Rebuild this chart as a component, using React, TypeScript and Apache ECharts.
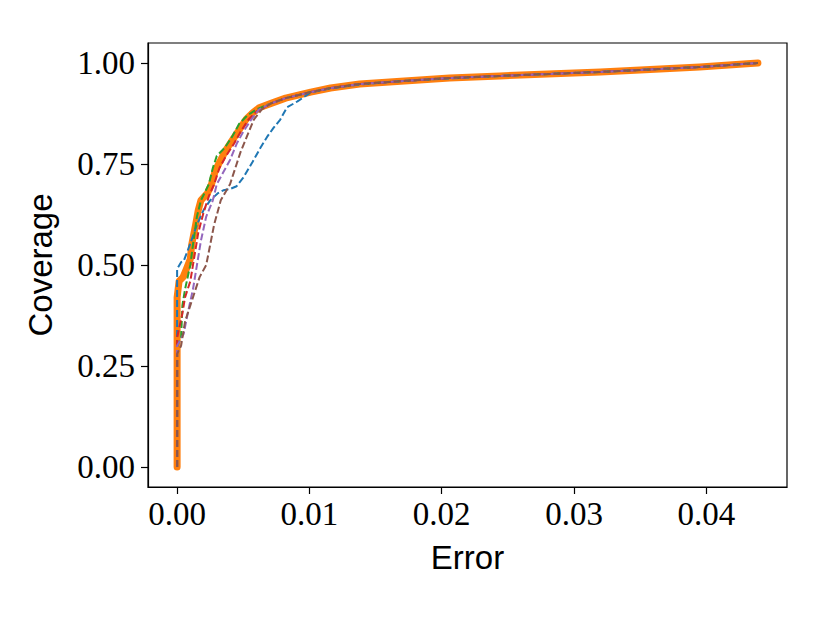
import React, { useEffect, useRef } from "react";
import * as echarts from "echarts";

const xTicks = [0, 0.01, 0.02, 0.03, 0.04];
const yTicks = [0, 0.25, 0.5, 0.75, 1.0];

const orangeData: [number, number][] = [
  [0, 0], [0, 0.42], [0.00015, 0.46], [0.00045, 0.47], [0.0007, 0.49], [0.001, 0.515],
  [0.0011, 0.55], [0.0014, 0.6], [0.0016, 0.636], [0.0018, 0.66], [0.0023, 0.678],
  [0.0026, 0.7], [0.0029, 0.735], [0.0033, 0.76], [0.0037, 0.785], [0.0042, 0.81],
  [0.0048, 0.84], [0.0052, 0.86], [0.0057, 0.876], [0.0062, 0.889], [0.0071, 0.9],
  [0.0082, 0.913], [0.0101, 0.928], [0.0116, 0.938], [0.0138, 0.948], [0.0169, 0.955],
  [0.0206, 0.963], [0.0244, 0.968], [0.032, 0.978], [0.0395, 0.99], [0.0439, 1.0],
];

const blueData: [number, number][] = [
  [0, 0], [0, 0.49], [0.0003, 0.507], [0.0005, 0.51], [0.001, 0.553], [0.0015, 0.6],
  [0.002, 0.636], [0.0025, 0.66], [0.0031, 0.678], [0.0035, 0.685], [0.004, 0.688],
  [0.0045, 0.695], [0.005, 0.716], [0.0057, 0.755], [0.0063, 0.79], [0.0068, 0.817],
  [0.0073, 0.84], [0.0078, 0.86], [0.0083, 0.89], [0.0091, 0.905], [0.0101, 0.927],
  [0.0116, 0.937], [0.0138, 0.947], [0.0169, 0.955], [0.0206, 0.962], [0.0244, 0.968],
  [0.032, 0.978], [0.0395, 0.99], [0.0439, 1.0],
];

const greenData: [number, number][] = [
  [0, 0], [0, 0.3], [0.0003, 0.32], [0.0004, 0.4], [0.0006, 0.44], [0.001, 0.5],
  [0.0012, 0.55], [0.0015, 0.62], [0.0018, 0.66], [0.0024, 0.7], [0.0027, 0.74],
  [0.003, 0.77], [0.0036, 0.79], [0.0042, 0.82], [0.0047, 0.85], [0.0053, 0.87],
  [0.006, 0.885], [0.0071, 0.9], [0.0082, 0.913], [0.0101, 0.928], [0.0116, 0.938],
  [0.0138, 0.948], [0.0169, 0.955], [0.0206, 0.963], [0.0244, 0.968], [0.032, 0.978],
  [0.0395, 0.99], [0.0439, 1.0],
];

const redData: [number, number][] = [
  [0, 0], [0, 0.32], [0.0004, 0.38], [0.0006, 0.42], [0.001, 0.46], [0.0013, 0.52],
  [0.0016, 0.58], [0.002, 0.63], [0.0024, 0.67], [0.0028, 0.7], [0.0032, 0.74],
  [0.0037, 0.77], [0.0043, 0.8], [0.0048, 0.83], [0.0054, 0.86], [0.006, 0.88],
  [0.0071, 0.9], [0.0082, 0.913], [0.0101, 0.928], [0.0116, 0.938], [0.0138, 0.948],
  [0.0169, 0.955], [0.0206, 0.963], [0.0244, 0.968], [0.032, 0.978], [0.0395, 0.99],
  [0.0439, 1.0],
];

const purpleData: [number, number][] = [
  [0, 0], [0, 0.3], [0.0005, 0.33], [0.0008, 0.38], [0.0012, 0.44], [0.0015, 0.5],
  [0.0018, 0.56], [0.0022, 0.62], [0.0027, 0.66], [0.003, 0.7], [0.0035, 0.73],
  [0.004, 0.76], [0.0045, 0.8], [0.005, 0.83], [0.0056, 0.86], [0.0062, 0.885],
  [0.0071, 0.9], [0.0082, 0.913], [0.0101, 0.928], [0.0116, 0.938], [0.0138, 0.948],
  [0.0169, 0.955], [0.0206, 0.963], [0.0244, 0.968], [0.032, 0.978], [0.0395, 0.99],
  [0.0439, 1.0],
];

const brownData: [number, number][] = [
  [0, 0], [0, 0.28], [0.0003, 0.3], [0.0006, 0.36], [0.001, 0.4], [0.0013, 0.43],
  [0.0017, 0.47], [0.0022, 0.5], [0.0025, 0.55], [0.0028, 0.6], [0.0033, 0.66],
  [0.004, 0.7], [0.0044, 0.74], [0.0048, 0.78], [0.0053, 0.82], [0.0058, 0.86],
  [0.0064, 0.885], [0.0071, 0.9], [0.0082, 0.913], [0.0101, 0.928], [0.0116, 0.938],
  [0.0138, 0.948], [0.0169, 0.955], [0.0206, 0.963], [0.0244, 0.968], [0.032, 0.978],
  [0.0395, 0.99], [0.0439, 1.0],
];

const dashed = (name: string, data: [number, number][], color: string, z: number) => ({
  name,
  type: "line",
  data,
  showSymbol: false,
  symbol: "none",
  z,
  lineStyle: { color, width: 2, type: [7, 3] },
});

export default function App() {
  const ref = useRef<HTMLDivElement>(null);
  useEffect(() => {
    if (!ref.current) return;
    const chart = echarts.init(ref.current, undefined, { renderer: "svg" });
    const serif = "Liberation Serif";
    chart.setOption({
      animation: false,
      backgroundColor: "#ffffff",
      grid: {
        left: 148,
        top: 43,
        right: 43,
        bottom: 136,
        show: true,
        borderColor: "#000",
        borderWidth: 1.2,
      },
      xAxis: {
        type: "value",
        min: -0.0022,
        max: 0.0461,
        name: "Error",
        nameLocation: "middle",
        nameGap: 54,
        nameTextStyle: { fontFamily: "Liberation Sans", fontSize: 33, color: "#000" },
        splitLine: { show: false },
        axisLine: { show: true, onZero: false, lineStyle: { color: "#000", width: 1.2 } },
        axisTick: {
          show: true,
          length: 7,
          customValues: xTicks,
          lineStyle: { color: "#000", width: 1.2 },
        },
        axisLabel: {
          customValues: xTicks,
          formatter: (v: number) => v.toFixed(2),
          fontFamily: serif,
          fontSize: 33,
          color: "#000",
          margin: 10,
        },
      },
      yAxis: {
        type: "value",
        min: -0.0495,
        max: 1.0495,
        name: "Coverage",
        nameLocation: "middle",
        nameGap: 91,
        nameTextStyle: { fontFamily: "Liberation Sans", fontSize: 33, color: "#000" },
        splitLine: { show: false },
        axisLine: { show: true, onZero: false, lineStyle: { color: "#000", width: 1.2 } },
        axisTick: {
          show: true,
          length: 7,
          customValues: yTicks,
          lineStyle: { color: "#000", width: 1.2 },
        },
        axisLabel: {
          customValues: yTicks,
          formatter: (v: number) => v.toFixed(2),
          fontFamily: serif,
          fontSize: 33,
          color: "#000",
          margin: 13,
        },
      },
      series: [
        {
          name: "orange",
          type: "line",
          data: orangeData,
          showSymbol: false,
          symbol: "none",
          z: 1,
          lineStyle: { color: "#ff7f0e", width: 7, cap: "round", join: "round" },
        },
        dashed("blue", blueData, "#1f77b4", 3),
        dashed("green", greenData, "#2ca02c", 4),
        dashed("red", redData, "#d62728", 5),
        dashed("purple", purpleData, "#9467bd", 6),
        dashed("brown", brownData, "#8c564b", 7),
      ],
    });
    return () => chart.dispose();
  }, []);
  return (
    <div
      ref={ref}
      style={{ position: "fixed", left: 0, top: 0, width: 830, height: 623, background: "#fff" }}
    />
  );
}
